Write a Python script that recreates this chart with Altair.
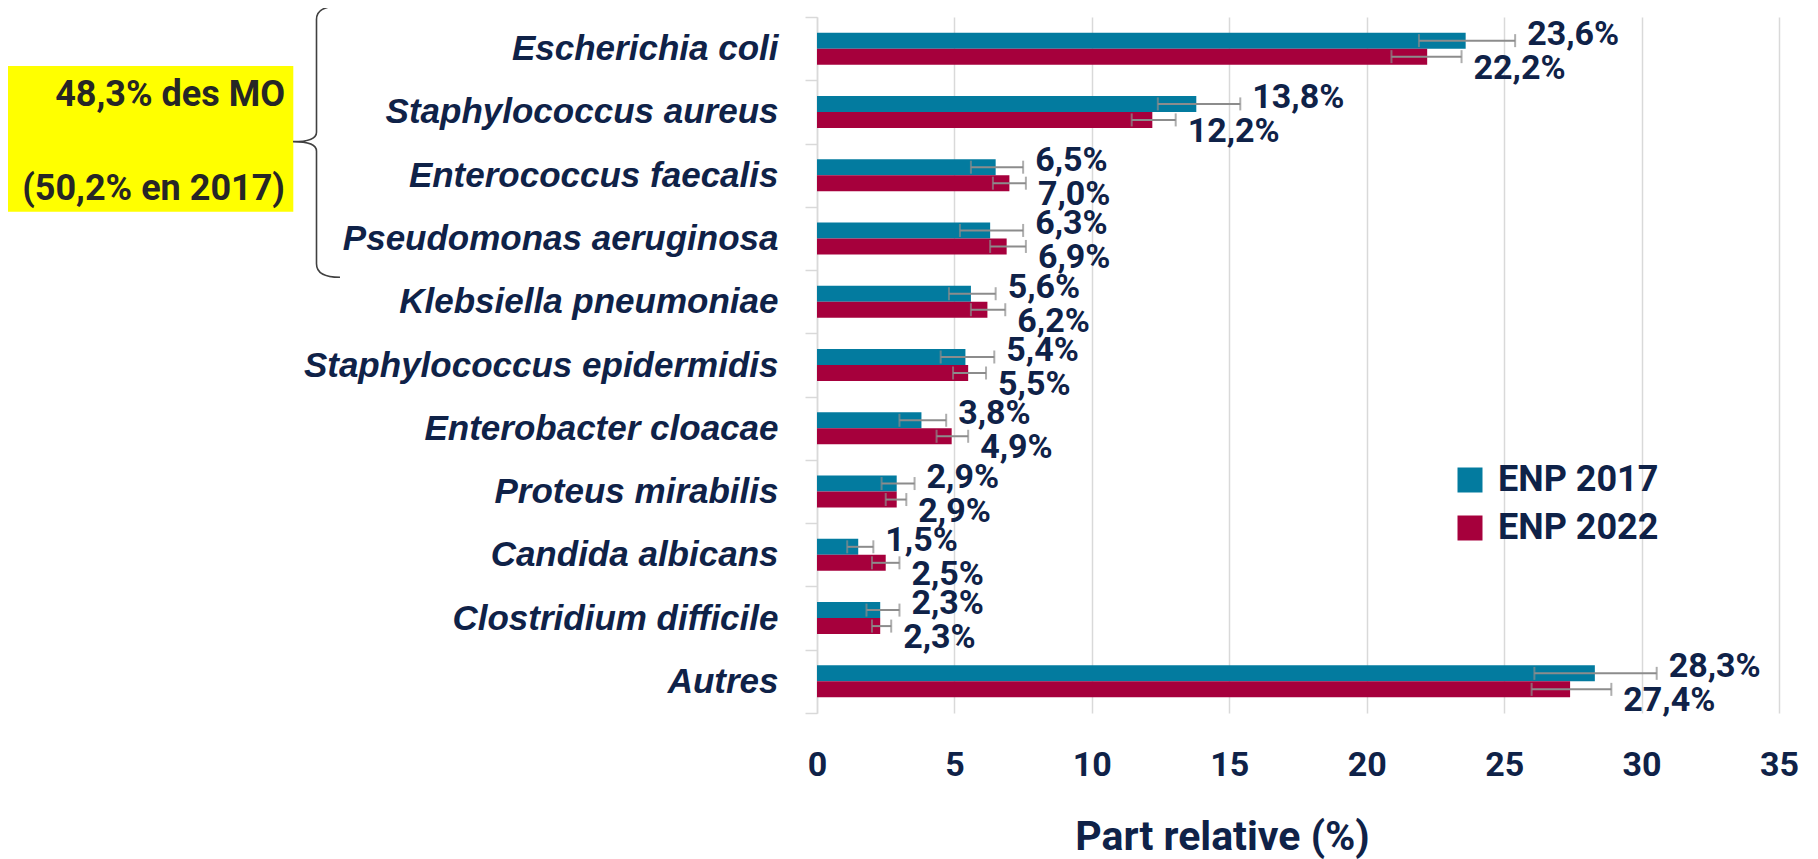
import altair as alt
import pandas as pd

# ---------------- data ----------------
categories = [
    "Escherichia coli", "Staphylococcus aureus", "Enterococcus faecalis",
    "Pseudomonas aeruginosa", "Klebsiella pneumoniae", "Staphylococcus epidermidis",
    "Enterobacter cloacae", "Proteus mirabilis", "Candida albicans",
    "Clostridium difficile", "Autres",
]
series = ["ENP 2017", "ENP 2022"]
val_2017 = [23.6, 13.8, 6.5, 6.3, 5.6, 5.4, 3.8, 2.9, 1.5, 2.3, 28.3]
lo_2017 = [21.9, 12.4, 5.6, 5.2, 4.8, 4.5, 3.0, 2.35, 1.1, 1.8, 26.1]
hi_2017 = [25.4, 15.4, 7.5, 7.5, 6.5, 6.45, 4.7, 3.55, 2.05, 3.0, 30.55]
val_2022 = [22.2, 12.2, 7.0, 6.9, 6.2, 5.5, 4.9, 2.9, 2.5, 2.3, 27.4]
lo_2022 = [20.9, 11.45, 6.4, 6.3, 5.6, 4.95, 4.35, 2.5, 2.0, 2.0, 26.0]
hi_2022 = [23.45, 13.05, 7.6, 7.6, 6.85, 6.15, 5.5, 3.25, 3.0, 2.7, 28.9]
x_ticks = [0, 5, 10, 15, 20, 25, 30, 35]
x_title = "Part relative (%)"
note_lines = ["48,3% des MO", "(50,2% en 2017)"]

# ---------------- styles ----------------
TEAL = "#037b9f"
RED = "#a6003c"
NAVY = "#0f2248"
GRAY = "#8c8c8c"
GRID = "#d9d9d9"
YELLOW = "#ffff00"
FONT = "Roboto"
FW = "bold"

rows = []
for s, vals, los, his in [
    (series[0], val_2017, lo_2017, hi_2017),
    (series[1], val_2022, lo_2022, hi_2022),
]:
    for c, v, lo, hi in zip(categories, vals, los, his):
        rows.append({
            "cat": c, "serie": s, "val": v, "lo": lo, "hi": hi,
            "label": f"{v:.1f}".replace(".", ",") + "%",
        })
df = pd.DataFrame(rows)

W, H = 962, 696
X0, Y0 = 817, 17  # page position of plot origin

y_enc = alt.Y(
    "cat:N", sort=categories, title=None,
    scale=alt.Scale(paddingInner=0, paddingOuter=0),
    axis=alt.Axis(
        labelFont="Liberation Sans", labelFontSize=35, labelFontStyle="italic",
        labelFontWeight="bold", labelColor=NAVY, labelPadding=27, labelLimit=800,
        tickSize=12, tickColor=GRID, tickWidth=1.5, tickBand="extent",
        domainColor=GRID, domainWidth=1.5, grid=False,
    ),
)
yoff = alt.YOffset("serie:N", sort=series,
                   scale=alt.Scale(paddingInner=0, paddingOuter=0.977))
x_scale = alt.Scale(domain=[0, 35], nice=False)


def xq(field):
    return alt.X(
        f"{field}:Q", scale=x_scale, title=x_title,
        axis=alt.Axis(
            values=x_ticks, grid=True, gridColor=GRID, gridWidth=1.5,
            domain=False, ticks=False, labelFlush=False, labelOverlap=False,
            labelFont=FONT, labelFontSize=34, labelFontWeight=FW,
            labelColor=NAVY, labelPadding=35,
            titleFont=FONT, titleFontSize=41, titleFontWeight=FW,
            titleColor=NAVY, titleX=405, titleY=136, titleBaseline="alphabetic",
            titleAlign="center", titleAngle=0,
        ),
    )


base = alt.Chart(df)

bars = base.mark_bar().encode(
    x=xq("val"), y=y_enc, yOffset=yoff,
    color=alt.Color(
        "serie:N", scale=alt.Scale(domain=series, range=[TEAL, RED]),
        legend=alt.Legend(
            title=None, orient="none", legendX=635, legendY=445,
            symbolType="square", symbolSize=625, symbolStrokeWidth=0,
            symbolOpacity=1, labelFont=FONT, labelFontSize=36,
            labelFontWeight=FW, labelColor=NAVY,
            labelOffset=10, rowPadding=12, padding=0, labelLimit=400,
        ),
    ),
)

err = base.mark_rule(color=GRAY, strokeWidth=2).encode(
    x=xq("lo"), x2="hi:Q", y=y_enc, yOffset=yoff)
cap_lo = base.mark_tick(color=GRAY, thickness=2, size=13).encode(
    x=xq("lo"), y=y_enc, yOffset=yoff)
cap_hi = base.mark_tick(color=GRAY, thickness=2, size=13).encode(
    x=xq("hi"), y=y_enc, yOffset=yoff)

txt_style = dict(align="left", baseline="middle", font=FONT, fontSize=34,
                 fontWeight=FW, color=NAVY, dx=12)
lab17 = base.transform_filter(alt.datum.serie == series[0]).mark_text(
    dy=-6, **txt_style).encode(x=xq("hi"), y=y_enc, yOffset=yoff, text="label:N")
lab22 = base.transform_filter(alt.datum.serie == series[1]).mark_text(
    dy=12, **txt_style).encode(x=xq("hi"), y=y_enc, yOffset=yoff, text="label:N")

# ---------------- annotation (yellow box + brace) ----------------
one = alt.Chart(pd.DataFrame({"k": [0]}))
box = one.mark_rect(color=YELLOW).encode(
    x=alt.value(0 - X0), x2=alt.value(293.3 - X0),
    y=alt.value(66 - Y0), y2=alt.value(211.7 - Y0))
note1 = one.mark_text(align="right", baseline="alphabetic", font=FONT,
                      fontSize=36, fontWeight=FW, color="#262626").encode(
    x=alt.value(285 - X0), y=alt.value(106.1 - Y0), text=alt.value(note_lines[0]))
note2 = one.mark_text(align="right", baseline="alphabetic", font=FONT,
                      fontSize=36, fontWeight=FW, color="#262626").encode(
    x=alt.value(285 - X0), y=alt.value(200.1 - Y0), text=alt.value(note_lines[1]))

BRACE = ("M 0.1732 -1 Q 0 -1 0 -0.9 L 0 -0.07 Q 0 0 -0.1732 0 "
         "Q 0 0 0 0.07 L 0 0.9 Q 0 1 0.1732 1")
brace = one.mark_point(shape=BRACE, size=271.3 ** 2, filled=False,
                       stroke="#404040", strokeWidth=1.6, opacity=1).encode(
    x=alt.value(316.5 - X0), y=alt.value(141.65 - Y0))

chart = alt.layer(
    box, note1, note2, brace, bars, err, cap_lo, cap_hi, lab17, lab22
).properties(
    width=W, height=H,
    autosize=alt.AutoSizeParams(type="none"),
    padding={"left": X0 - 8, "top": Y0 - 8, "right": 20, "bottom": 146},
    background="white",
).configure_view(stroke=None)

chart.save("out.html", embed_options={"renderer": "svg", "actions": False})
